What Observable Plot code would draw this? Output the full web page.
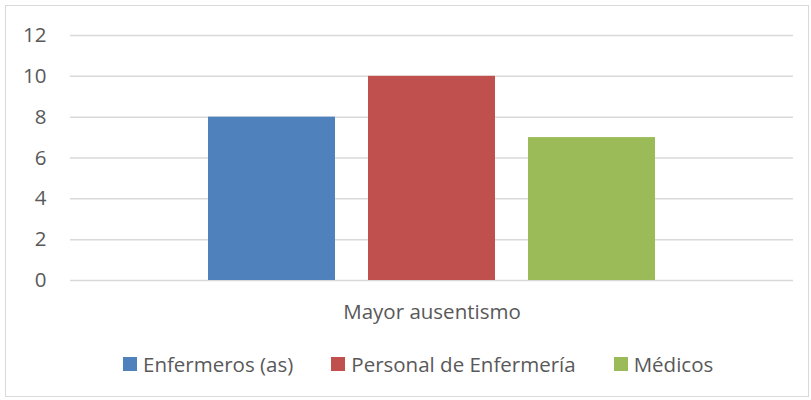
<!DOCTYPE html>
<html>
<head>
<meta charset="utf-8">
<script src="https://cdn.jsdelivr.net/npm/d3@7"></script>
<script src="https://cdn.jsdelivr.net/npm/@observablehq/plot@0.6"></script>
<style>
  html, body { margin: 0; padding: 0; background: #fff; }
  #wrap { position: relative; width: 811px; height: 400px; font-family: "Open Sans", sans-serif; }
  #frame { position: absolute; left: 5px; top: 5px; width: 804px; height: 392px; border: 1px solid #d9d9d9; box-sizing: border-box; }
  #chart { position: absolute; left: 0; top: 0; }
  #legend { position: absolute; left: 123px; top: 347px; }
  .leg-swatches { font-family: "Open Sans", sans-serif !important; font-size: 20.5px !important; color: #595959; margin: 0 !important; display: flex; }
  .leg-swatch { margin-right: 38px !important; }
  .leg-swatch > svg { margin-right: 6px !important; }
</style>
</head>
<body>
<div id="wrap">
  <div id="frame"></div>
  <div id="chart"></div>
  <div id="legend"></div>
</div>
<script>
const categories = ["Mayor ausentismo"];
const series = ["Enfermeros (as)", "Personal de Enfermería", "Médicos"];
const values = [8, 10, 7];
const colors = ["#4f81bd", "#c0504d", "#9bbb59"];
const yTicks = [0, 2, 4, 6, 8, 10, 12];

const data = series.map((s, i) => ({category: categories[0], series: s, value: values[i]}));

const chart = Plot.plot({
  width: 811,
  height: 340,
  marginLeft: 70,
  marginRight: 18,
  marginTop: 35,
  marginBottom: 60,
  style: {fontFamily: "'Open Sans', sans-serif", fontSize: "20.5px", color: "#595959", background: "transparent"},
  fx: {domain: categories, padding: 0, label: null},
  x: {domain: series, paddingInner: 0.206, paddingOuter: 0.862, axis: null},
  y: {domain: [0, 12], label: null},
  color: {domain: series, range: colors},
  marks: [
    Plot.gridY(yTicks, {stroke: "#d9d9d9", strokeOpacity: 1, strokeWidth: 1.5}),
    Plot.axisY(yTicks, {tickSize: 0, tickPadding: 24, label: null, fill: "#595959"}),
    Plot.axisFx({anchor: "bottom", tickSize: 0, tickPadding: 24, label: null, fill: "#595959"}),
    Plot.barY(data, {fx: "category", x: "series", y: "value", fill: "series"})
  ]
});
document.getElementById("chart").appendChild(chart);

const legend = Plot.legend({
  color: {domain: series, range: colors},
  swatchSize: 14,
  className: "leg"
});
document.getElementById("legend").appendChild(legend);
</script>
</body>
</html>
